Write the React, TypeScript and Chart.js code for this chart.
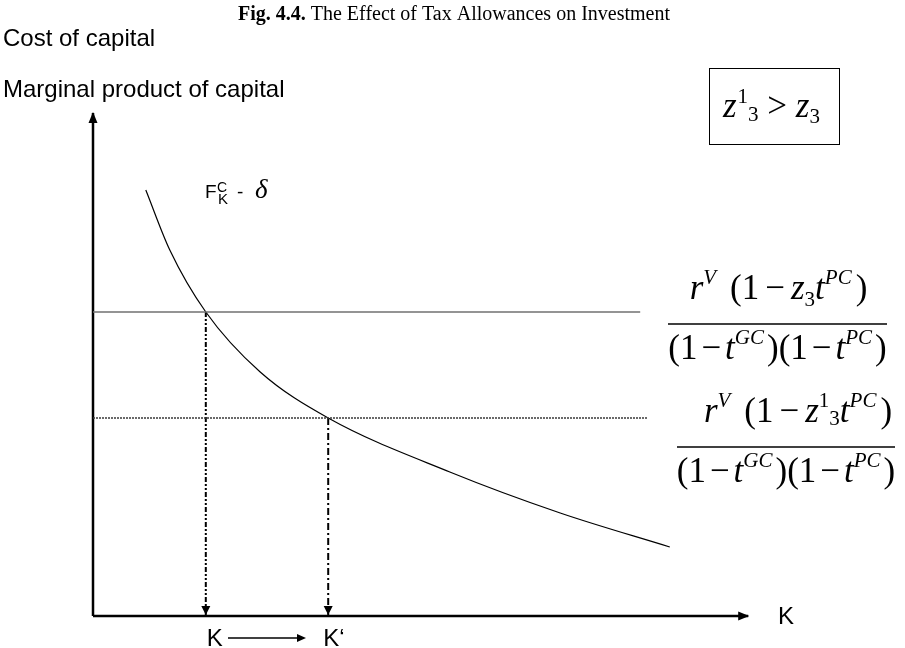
import React, { useEffect, useRef } from "react";
import { Chart, registerables } from "chart.js";

Chart.register(...registerables);

// Net marginal product of capital F^C_K − δ, sampled along K
const curveK = [0.66, 0.96, 1.41, 2.09, 2.94, 4.46, 5.84, 7.21];
const curveRate = [8.52, 7.32, 6.08, 4.88, 3.96, 2.88, 2.06, 1.38];

// Cost of capital: with allowance z3, then with the larger allowance z¹3
const costRates = [6.08, 3.96];
const costLineEnds = [6.84, 6.93];

// Capital stocks where each cost of capital meets the curve
const capitalStocks = [1.41, 2.94];
const capitalLabels = ["K", "K\u2018"];

// Axis extents
const axisEndK = 8.19;
const axisEndRate = 10.06;

const titleNumber = "Fig. 4.4.";
const titleText = "The Effect of Tax Allowances on Investment";
const rateAxisLines = ["Cost of capital", "Marginal product of capital"];
const capitalAxisLabel = "K";
const curveLabel = ["F", "C", "K", "-", "\u03b4"];

const SERIF = '"Liberation Serif", "Times New Roman", Times, serif';
const SANS = '"Liberation Sans", Arial, Helvetica, sans-serif';
const it = (n: number) => `italic ${n}px ${SERIF}`;
const rm = (n: number) => `${n}px ${SERIF}`;

type Run = { s: string; f: string; dy?: number; pre?: number; post?: number };

function runsWidth(ctx: CanvasRenderingContext2D, runs: Run[]) {
  let w = 0;
  for (const r of runs) {
    ctx.font = r.f;
    w += (r.pre || 0) + ctx.measureText(r.s).width + (r.post || 0);
  }
  return w;
}

function drawRuns(ctx: CanvasRenderingContext2D, runs: Run[], x: number, y: number) {
  let cx = x;
  for (const r of runs) {
    ctx.font = r.f;
    cx += r.pre || 0;
    ctx.fillText(r.s, cx, y + (r.dy || 0));
    cx += ctx.measureText(r.s).width + (r.post || 0);
  }
  return cx;
}

const M = 35; // formula body size
const S = 21; // formula script size
const UP = -15;
const minus = (g: number): Run => ({ s: "\u2212", f: rm(M), pre: g, post: g });

const numeratorZ3: Run[] = [
  { s: "r", f: it(M) },
  { s: "V", f: it(S), dy: UP },
  { s: "(1", f: rm(M), pre: 14 },
  minus(6),
  { s: "z", f: it(M) },
  { s: "3", f: rm(S), dy: 7 },
  { s: "t", f: it(M) },
  { s: "PC", f: it(S), dy: UP },
  { s: ")", f: rm(M), pre: 4 },
];

const numeratorZ13: Run[] = [
  { s: "r", f: it(M) },
  { s: "V", f: it(S), dy: UP },
  { s: "(1", f: rm(M), pre: 14 },
  minus(6),
  { s: "z", f: it(M) },
  { s: "1", f: rm(S), dy: UP },
  { s: "3", f: rm(S), dy: 3 },
  { s: "t", f: it(M) },
  { s: "PC", f: it(S), dy: UP },
  { s: ")", f: rm(M), pre: 4 },
];

const denominator: Run[] = [
  { s: "(1", f: rm(M) },
  minus(4),
  { s: "t", f: it(M) },
  { s: "GC", f: it(S), dy: UP },
  { s: ")(1", f: rm(M), pre: 3 },
  minus(4),
  { s: "t", f: it(M) },
  { s: "PC", f: it(S), dy: UP },
  { s: ")", f: rm(M), pre: 3 },
];

const boxRuns: Run[] = [
  { s: "z", f: it(M) },
  { s: "1", f: rm(S), dy: -14, pre: 1 },
  { s: "3", f: rm(S), dy: 4 },
  { s: " > ", f: rm(M) },
  { s: "z", f: it(M) },
  { s: "3", f: rm(S), dy: 6 },
];

function arrowHead(
  ctx: CanvasRenderingContext2D,
  tx: number,
  ty: number,
  dx: number,
  dy: number,
  len: number,
  half: number
) {
  const bx = tx - dx * len;
  const by = ty - dy * len;
  const nx = -dy;
  const ny = dx;
  ctx.beginPath();
  ctx.moveTo(tx, ty);
  ctx.lineTo(bx + nx * half, by + ny * half);
  ctx.lineTo(bx - nx * half, by - ny * half);
  ctx.closePath();
  ctx.fill();
}

function drawFraction(
  ctx: CanvasRenderingContext2D,
  num: Run[],
  den: Run[],
  x0: number,
  x1: number,
  lineY: number,
  numShift: number
) {
  const cx = (x0 + x1) / 2;
  const nw = runsWidth(ctx, num);
  const dw = runsWidth(ctx, den);
  drawRuns(ctx, num, cx - nw / 2 + numShift, lineY - 25);
  drawRuns(ctx, den, cx - dw / 2, lineY + 35);
  ctx.save();
  ctx.strokeStyle = "#000";
  ctx.lineWidth = 1.3;
  ctx.beginPath();
  ctx.moveTo(x0, lineY);
  ctx.lineTo(x1, lineY);
  ctx.stroke();
  ctx.restore();
}

const diagramPlugin = {
  id: "diagram",
  afterDatasetsDraw(chart: any) {
    const { ctx } = chart;
    const xs = chart.scales.x;
    const ys = chart.scales.y;
    const px = (v: number) => xs.getPixelForValue(v);
    const py = (v: number) => ys.getPixelForValue(v);
    ctx.save();
    ctx.fillStyle = "#000";
    ctx.textBaseline = "alphabetic";

    // axis arrowheads
    arrowHead(ctx, px(0), py(axisEndRate) - 1, 0, -1, 11, 4.5);
    arrowHead(ctx, px(axisEndK) + 1, py(0), 1, 0, 11, 4.5);
    // arrowheads on the drop lines
    capitalStocks.forEach((k) => arrowHead(ctx, px(k), py(0) - 1, 0, 1, 9, 4.5));

    // title
    ctx.textAlign = "left";
    const TF = 20;
    ctx.font = `bold ${TF}px ${SERIF}`;
    const wb = ctx.measureText(titleNumber + " ").width;
    ctx.font = `${TF}px ${SERIF}`;
    const wt = ctx.measureText(titleText).width;
    const tx = 454 - (wb + wt) / 2;
    ctx.font = `bold ${TF}px ${SERIF}`;
    ctx.fillText(titleNumber + " ", tx, 20);
    ctx.font = `${TF}px ${SERIF}`;
    ctx.fillText(titleText, tx + wb, 20);

    // vertical axis caption
    ctx.font = `24px ${SANS}`;
    ctx.fillText(rateAxisLines[0], 3, 46);
    ctx.fillText(rateAxisLines[1], 3, 97);

    // horizontal axis caption
    ctx.fillText(capitalAxisLabel, 778, py(0) + 8);

    // curve label F^C_K - δ
    ctx.font = `19px ${SANS}`;
    ctx.fillText(curveLabel[0], 205, 198);
    ctx.font = `14px ${SANS}`;
    ctx.fillText(curveLabel[1], 217, 192);
    ctx.font = `15px ${SANS}`;
    ctx.fillText(curveLabel[2], 218, 204);
    ctx.font = `19px ${SANS}`;
    ctx.fillText(curveLabel[3], 237, 198);
    ctx.font = `italic 27px ${SERIF}`;
    ctx.fillText(curveLabel[4], 255, 198);

    // K and K' below the axis, with the shift arrow
    ctx.font = `24px ${SANS}`;
    ctx.textAlign = "center";
    const labY = py(0) + 30;
    ctx.fillText(capitalLabels[0], px(capitalStocks[0]) + 9, labY);
    ctx.textAlign = "left";
    ctx.fillText(capitalLabels[1], px(capitalStocks[1]) - 5, labY);
    ctx.lineWidth = 1.5;
    ctx.strokeStyle = "#000";
    ctx.beginPath();
    ctx.moveTo(228, labY - 8);
    ctx.lineTo(298, labY - 8);
    ctx.stroke();
    arrowHead(ctx, 306, labY - 8, 1, 0, 9, 4);

    // box with z¹3 > z3
    ctx.lineWidth = 1;
    ctx.strokeRect(709.5, 68.5, 130, 76);
    drawRuns(ctx, boxRuns, 723, 117);

    // cost of capital formulas
    drawFraction(ctx, numeratorZ3, denominator, 668, 887, 324, 1);
    drawFraction(ctx, numeratorZ13, denominator, 677, 895, 447, 12);

    ctx.restore();
  },
};

export default function App() {
  const ref = useRef<HTMLCanvasElement | null>(null);

  useEffect(() => {
    const canvas = ref.current;
    if (!canvas) return;
    const line = (data: { x: number; y: number }[], extra: any) => ({
      data,
      pointRadius: 0,
      fill: false,
      clip: false,
      ...extra,
    });

    const chart = new Chart(canvas, {
      type: "line",
      data: {
        datasets: [
          // cost of capital with z3
          line(
            [
              { x: 0, y: costRates[0] },
              { x: costLineEnds[0], y: costRates[0] },
            ],
            { borderColor: "#707070", borderWidth: 1.5 }
          ),
          // cost of capital with z¹3
          line(
            [
              { x: 0, y: costRates[1] },
              { x: costLineEnds[1], y: costRates[1] },
            ],
            { borderColor: "#3a3a3a", borderWidth: 1.6, borderDash: [2, 1] }
          ),
          // F^C_K − δ
          line(
            curveK.map((k, i) => ({ x: k, y: curveRate[i] })),
            { borderColor: "#000", borderWidth: 1.2, cubicInterpolationMode: "monotone" }
          ),
          // drop lines to K and K'
          line(
            [
              { x: capitalStocks[0], y: costRates[0] },
              { x: capitalStocks[0], y: 0 },
            ],
            { borderColor: "#000", borderWidth: 2, borderDash: [5, 2, 2, 2, 2, 2] }
          ),
          line(
            [
              { x: capitalStocks[1], y: costRates[1] },
              { x: capitalStocks[1], y: 0 },
            ],
            { borderColor: "#000", borderWidth: 2, borderDash: [7, 3, 2, 3] }
          ),
          // axes
          line(
            [
              { x: 0, y: 0 },
              { x: 0, y: axisEndRate },
            ],
            { borderColor: "#000", borderWidth: 2.5 }
          ),
          line(
            [
              { x: 0, y: 0 },
              { x: axisEndK, y: 0 },
            ],
            { borderColor: "#000", borderWidth: 2.5 }
          ),
        ],
      },
      options: {
        animation: false,
        responsive: false,
        devicePixelRatio: 1,
        events: [],
        layout: { padding: { left: 93, right: 12, top: 116, bottom: 32 } },
        scales: {
          x: { type: "linear", min: 0, max: 10, display: false },
          y: { type: "linear", min: 0, max: 10, display: false },
        },
        plugins: {
          legend: { display: false },
          title: { display: false },
          tooltip: { enabled: false },
        },
      },
      plugins: [diagramPlugin],
    });
    return () => chart.destroy();
  }, []);

  return (
    <div style={{ position: "absolute", left: 0, top: 0, width: 905, height: 648, background: "#fff" }}>
      <canvas ref={ref} width={905} height={648} style={{ display: "block" }} />
    </div>
  );
}
